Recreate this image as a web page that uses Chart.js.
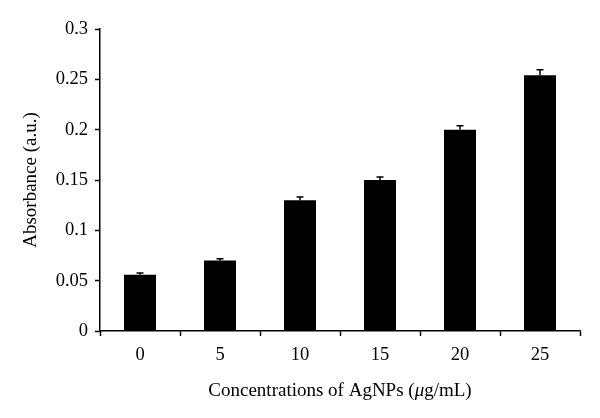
<!DOCTYPE html>
<html>
<head>
<meta charset="utf-8">
<script src="https://cdn.jsdelivr.net/npm/chart.js@4.4.1/dist/chart.umd.min.js"></script>
<style>
	html, body { margin: 0; padding: 0; background: #fff; }
	#wrap { width: 600px; height: 418px; }
</style>
</head>
<body>
<div id="wrap"><canvas id="chart1"></canvas></div>
<script>
var categories = ['0', '5', '10', '15', '20', '25'];
var absorbance = [0.056, 0.070, 0.130, 0.150, 0.200, 0.254];
var errors = [0.0015, 0.0017, 0.003, 0.003, 0.004, 0.0055];
var yTickLabels = ['0', '0.05', '0.1', '0.15', '0.2', '0.25', '0.3'];

var serif = '"Liberation Serif", "DejaVu Serif", serif';

// upper error bars, drawn from the scales
var errorBars = {
	id: 'errorBars',
	afterDatasetsDraw: function(chart) {
		var ctx = chart.ctx;
		var meta = chart.getDatasetMeta(0);
		var y = chart.scales.y;
		ctx.save();
		ctx.strokeStyle = '#000';
		ctx.lineWidth = 1.5;
		meta.data.forEach(function(bar, i) {
			var top = y.getPixelForValue(absorbance[i] + errors[i]);
			ctx.beginPath();
			ctx.moveTo(bar.x, bar.y);
			ctx.lineTo(bar.x, top);
			ctx.moveTo(bar.x - 3.5, top);
			ctx.lineTo(bar.x + 3.5, top);
			ctx.stroke();
		});
		ctx.restore();
	}
};

// x title with italic mu
var xTitle = {
	id: 'xTitle',
	afterDraw: function(chart) {
		var ctx = chart.ctx;
		var area = chart.chartArea;
		var parts = [
			['Concentrations of AgNPs (', ''],
			['\u03bc', 'italic '],
			['g/mL)', '']
		];
		ctx.save();
		ctx.fillStyle = '#000';
		ctx.textBaseline = 'middle';
		var total = 0;
		parts.forEach(function(p) {
			ctx.font = p[1] + '19px ' + serif;
			total += ctx.measureText(p[0]).width;
		});
		var x = (area.left + area.right) / 2 - total / 2;
		parts.forEach(function(p) {
			ctx.font = p[1] + '19px ' + serif;
			ctx.fillText(p[0], x, 391);
			x += ctx.measureText(p[0]).width;
		});
		ctx.restore();
	}
};

var ctx = document.getElementById('chart1').getContext('2d');
var chart1 = new Chart(ctx, {
	type: 'bar',
	data: {
		labels: categories,
		datasets: [{
			data: absorbance,
			backgroundColor: '#000',
			borderWidth: 0,
			barPercentage: 0.4,
			categoryPercentage: 1
		}]
	},
	options: {
		responsive: true,
		maintainAspectRatio: false,
		animation: false,
		layout: { padding: { left: 0, right: 20, top: 29, bottom: 0 } },
		plugins: {
			legend: { display: false },
			tooltip: { enabled: false }
		},
		scales: {
			x: {
				afterFit: function(scale) { scale.height = 87; },
				border: { display: true, color: '#000', width: 1.5 },
				grid: { display: true, drawOnChartArea: false, offset: true, tickLength: 5, tickColor: '#000', tickWidth: 1.5 },
				ticks: { color: '#000', padding: 8, font: { family: serif, size: 18.5 } }
			},
			y: {
				min: 0,
				max: 0.3,
				afterFit: function(scale) { scale.width = 100; },
				border: { display: true, color: '#000', width: 1.5 },
				grid: { display: true, drawOnChartArea: false, tickLength: 5, tickColor: '#000', tickWidth: 1.5 },
				ticks: {
					stepSize: 0.05,
					color: '#000',
					padding: 7,
					font: { family: serif, size: 18.5 },
					callback: function(value, index) { return yTickLabels[index]; }
				},
				title: {
					display: true,
					text: 'Absorbance (a.u.)',
					color: '#000',
					padding: { top: 20, bottom: 0 },
					font: { family: serif, size: 19 }
				}
			}
		}
	},
	plugins: [errorBars, xTitle]
});
</script>
</body>
</html>
